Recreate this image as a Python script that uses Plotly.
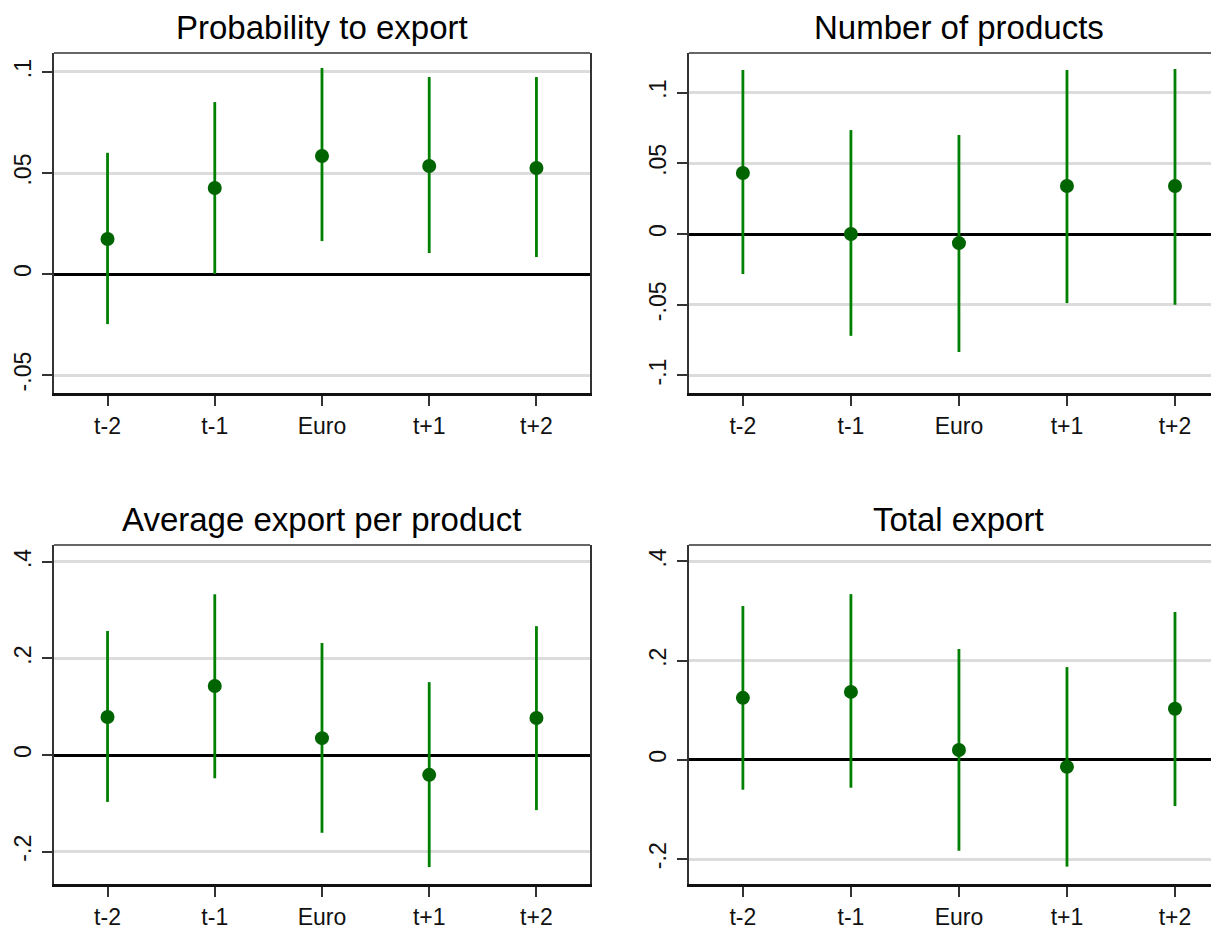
import plotly.graph_objects as go

categories = ["t-2", "t-1", "Euro", "t+1", "t+2"]

titles = ["Probability to export", "Number of products",
          "Average export per product", "Total export"]

prob_est = [0.0173, 0.0426, 0.0584, 0.0535, 0.0525]
prob_lo = [-0.0248, 0.0000, 0.0163, 0.0104, 0.0084]
prob_hi = [0.0600, 0.0851, 0.1020, 0.0975, 0.0975]

nprod_est = [0.0431, 0.0000, -0.0064, 0.0340, 0.0340]
nprod_lo = [-0.0283, -0.0720, -0.0834, -0.0488, -0.0500]
nprod_hi = [0.1160, 0.0735, 0.0700, 0.1160, 0.1167]

avg_est = [0.0787, 0.1430, 0.0350, -0.0410, 0.0766]
avg_lo = [-0.0970, -0.0480, -0.1610, -0.2320, -0.1140]
avg_hi = [0.2570, 0.3330, 0.2320, 0.1510, 0.2670]

tot_est = [0.1250, 0.1370, 0.0200, -0.0140, 0.1030]
tot_lo = [-0.0600, -0.0560, -0.1830, -0.2150, -0.0930]
tot_hi = [0.3100, 0.3340, 0.2235, 0.1870, 0.2980]

yticks_top_left = [-0.05, 0, 0.05, 0.1]
yticks_top_left_text = ["-.05", "0", ".05", ".1"]
yticks_top_right = [-0.1, -0.05, 0, 0.05, 0.1]
yticks_top_right_text = ["-.1", "-.05", "0", ".05", ".1"]
yticks_bottom = [-0.2, 0, 0.2, 0.4]
yticks_bottom_text = ["-.2", "0", ".2", ".4"]

# page has an 8px body margin; positions below are screen pixels
OFF = 8
W, H = 1231 - OFF, 933 - OFF
panels = [
    dict(est=prob_est, lo=prob_lo, hi=prob_hi, yr=[-0.0589, 0.1094],
         tv=yticks_top_left, tt=yticks_top_left_text,
         px=(54, 591), py=(53, 393), ty=27),
    dict(est=nprod_est, lo=nprod_lo, hi=nprod_hi, yr=[-0.1124, 0.128],
         tv=yticks_top_right, tt=yticks_top_right_text,
         px=(690, 1231), py=(53, 393), ty=27),
    dict(est=avg_est, lo=avg_lo, hi=avg_hi, yr=[-0.267, 0.435],
         tv=yticks_bottom, tt=yticks_bottom_text,
         px=(54, 591), py=(545, 884), ty=519),
    dict(est=tot_est, lo=tot_lo, hi=tot_hi, yr=[-0.25, 0.433],
         tv=yticks_bottom, tt=yticks_bottom_text,
         px=(690, 1231), py=(545, 884), ty=519),
]

fig = go.Figure()
font_family = "Liberation Sans, Arial, sans-serif"
xpos = list(range(1, len(categories) + 1))

for i, p in enumerate(panels):
    n = i + 1
    xa = "x" if n == 1 else f"x{n}"
    ya = "y" if n == 1 else f"y{n}"
    lx, ly = [], []
    for xv, lo, hi in zip(xpos, p["lo"], p["hi"]):
        lx += [xv, xv, None]
        ly += [lo, hi, None]
    fig.add_trace(go.Scatter(x=lx, y=ly, mode="lines",
                             line=dict(color="#008000", width=2.8),
                             xaxis=xa, yaxis=ya, showlegend=False,
                             hoverinfo="skip"))
    fig.add_trace(go.Scatter(x=xpos, y=p["est"], mode="markers",
                             marker=dict(color="#006400", size=14, symbol="circle"),
                             xaxis=xa, yaxis=ya, showlegend=False))
    x0, x1 = p["px"][0] - OFF, p["px"][1] - OFF
    y0, y1 = p["py"][0] - OFF, p["py"][1] - OFF
    xd = [x0 / W, min(x1 / W, 1.0)]
    yd = [(H - y1) / H, (H - y0) / H]
    xkey = "xaxis" if n == 1 else f"xaxis{n}"
    ykey = "yaxis" if n == 1 else f"yaxis{n}"
    fig.update_layout(**{
        xkey: dict(domain=xd, anchor=ya, range=[0.5, 5.5],
                   tickmode="array", tickvals=xpos, ticktext=categories,
                   showgrid=False, zeroline=False,
                   showline=True, linecolor="#111111", linewidth=3,
                   mirror=False, ticks="outside", ticklen=10, tickwidth=1.5,
                   tickcolor="#333333",
                   tickfont=dict(family=font_family, size=23, color="#111111"),
                   fixedrange=True),
        ykey: dict(domain=yd, anchor=xa, range=p["yr"],
                   tickmode="array", tickvals=p["tv"], ticktext=p["tt"],
                   tickangle=-90, ticklabelstandoff=2,
                   showgrid=True, gridcolor="#dcdcdc", gridwidth=2.5,
                   zeroline=True, zerolinecolor="#000000", zerolinewidth=2.5,
                   showline=True, linecolor="#333333", linewidth=1.5,
                   mirror=True, ticks="outside", ticklen=10, tickwidth=1.5,
                   tickcolor="#333333",
                   tickfont=dict(family=font_family, size=23, color="#111111"),
                   fixedrange=True),
    })
    fig.add_shape(type="line", xref="paper", yref="paper",
                  x0=xd[0], x1=xd[1], y0=yd[1], y1=yd[1],
                  line=dict(color="#333333", width=1.5))
    fig.add_annotation(text=titles[i], xref="paper", yref="paper",
                       x=(xd[0] + xd[1]) / 2,
                       y=(H - (p["ty"] - OFF)) / H, xanchor="center", yanchor="middle",
                       showarrow=False,
                       font=dict(family=font_family, size=33, color="#000000"))

fig.update_layout(width=W, height=H, margin=dict(l=0, r=0, t=0, b=0),
                  paper_bgcolor="white", plot_bgcolor="white")

fig.write_html("out.html")
